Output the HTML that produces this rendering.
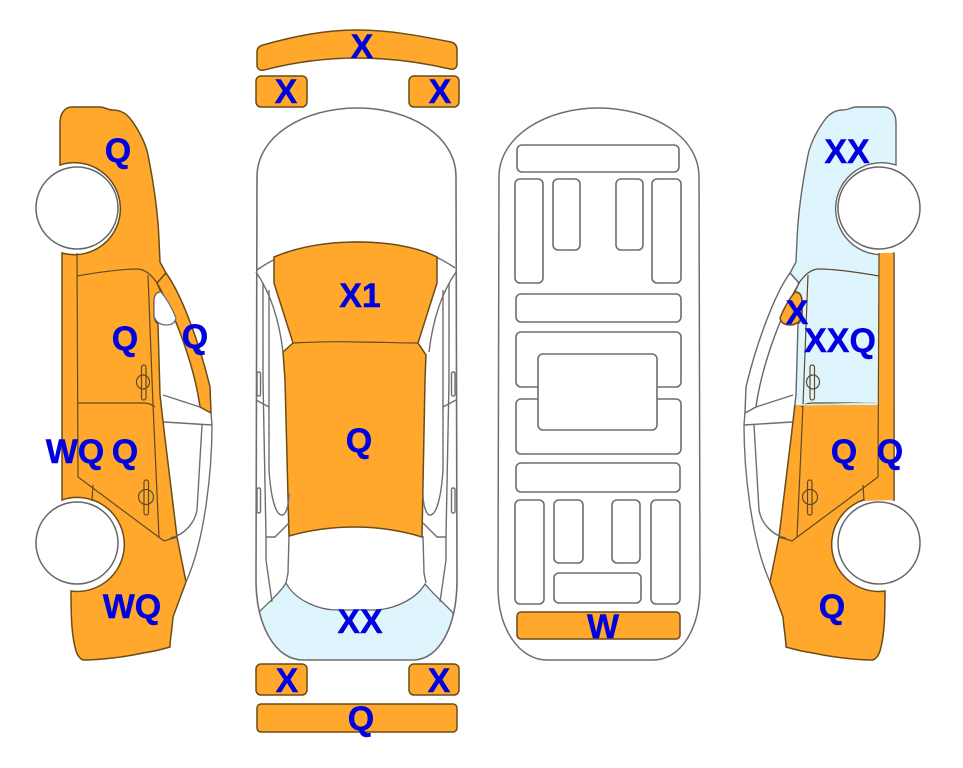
<!DOCTYPE html>
<html><head><meta charset="utf-8"><style>
html,body{margin:0;padding:0;background:#fff;width:963px;height:768px;overflow:hidden}
svg{display:block}
text{font-family:"Liberation Sans",Arial,sans-serif;font-weight:bold;font-size:34px;fill:#0000e1;stroke:#0000e1;stroke-width:.4;text-anchor:middle}
.g{fill:none;stroke:#6e6e6e;stroke-width:1.4}
.r rect{fill:#fff;stroke:#6e6e6e;stroke-width:1.6}
.o{fill:#ffa82c;stroke:#6b4c18;stroke-width:1.5}
.l{fill:none;stroke:#5f4a28;stroke-width:1.2}
</style></head><body>
<svg width="963" height="768" viewBox="0 0 963 768" xmlns="http://www.w3.org/2000/svg">
<defs>
<path id="body" d="M60,165 L60,123 C60,112 66,107 72,107 L100,107 C104,107 108,110 113,110 C122,110 128,115 132,121 C140,132 146,145 148,155 C154,185 158,215 159,240 L160,262 L166,273 L157,283 L161,292 C156,292 154,296 154,302 L154,314 C154,319 155,322 158,324 L160,395 L164,430 L177,537 L186,582 L173,617 C172,630 170,640 170,647 C160,650 150,652 143,653 C125,657 100,660 83,660 C78,658 76,652 75,647 C72,635 71,620 71,591 A47,47 0 1 0 62,500 L62,253 A46,46 0 1 0 60,165 Z"/>
<path id="band" d="M166,273 C182,295 200,345 210,387 L211,413 L200,407 C195,370 178,320 157,283 Z"/>
<path id="mir" d="M161,292 C156,292 154,296 154,302 L154,314 C154,321 160,325 166,325 C171,325 175,323 176,318 C172,308 167,299 161,292 Z"/>
<path id="shell" d="M256,580 L257,177 C257,135 305,108 357,108 C409,108 456,135 456,177 L457,580 C457,625 440,660 413,660 L303,660 C275,660 256,625 256,580 Z"/>
<g id="doors">
<path d="M77,276 C100,272 120,269 137,269 C146,269 152,276 158,284"/>
<path d="M77,253 L78,477 L164,541 L177,537"/>
<path d="M148,275 L153,405 L159,537"/>
<path d="M78,403 L145,403 Q152,404 155,407"/>
<path d="M93,485 L92,501"/>
<rect x="141.500" y="365" width="4.500" height="35" rx="2.200"/>
<ellipse cx="143" cy="382" rx="6.500" ry="7"/>
<rect x="144" y="480" width="4.500" height="35" rx="2.200"/>
<ellipse cx="146" cy="497" rx="7.500" ry="7.500"/>
</g>
<g id="win" class="g">
<path d="M211,413 L212,425 C212,470 205,540 186,582"/>
<path d="M163,395 L200,407"/>
<path d="M164,422 L212,425"/>
<path d="M202,425 L197,510 C195,522 185,535 170,538"/>
</g>
<g id="side">
<path d="M256,272 C265,285 278,310 283,352"/>
<path d="M263,283 L263,380 L266,537 L266,560 L272,602"/>
<path d="M269,290 L269,470 C271,500 276,515 282,515 C286,515 289,505 289,493"/>
<path d="M256,400 L269,407"/>
<path d="M266,537 L275,537 L289,523"/>
<path d="M289,536 L288,573 L286,583"/>
<rect x="257" y="372" width="3.500" height="24" rx="1.500"/>
<rect x="257" y="488" width="3.500" height="25" rx="1.500"/>
</g>
<clipPath id="up"><rect x="0" y="0" width="300" height="405"/></clipPath>
<clipPath id="dn"><rect x="0" y="405" width="300" height="363"/></clipPath>
<clipPath id="sh"><use href="#shell"/></clipPath>
</defs>

<!-- left car -->
<use href="#body" class="o"/>
<use href="#band" class="o"/>
<use href="#mir" fill="#fff" stroke="#6e6e6e" stroke-width="1.3"/>
<use href="#win"/>
<use href="#doors" class="l"/>
<circle cx="77" cy="208" r="41" fill="#fff" stroke="#666" stroke-width="1.5"/>
<circle cx="77" cy="543" r="41" fill="#fff" stroke="#666" stroke-width="1.5"/>

<!-- right car -->
<g transform="translate(956,0) scale(-1,1)">
<use href="#body" fill="#dff5fe" stroke="#666" stroke-width="1.4" clip-path="url(#up)"/>
<use href="#body" class="o" clip-path="url(#dn)"/>
<path d="M62,253 L77,253 L78,477 L93,485 L92,501 L62,500 Z" fill="#ffa82c"/>
<path d="M62,253 L62,500" class="l"/>
<use href="#band" fill="#fff" stroke="#666" stroke-width="1.4"/>
<use href="#mir" class="o"/>
<use href="#win"/>
<use href="#doors" class="l"/>
<path d="M78,403 L155,405" stroke="#cfe8ee" stroke-width="1.500" fill="none"/>
<circle cx="77" cy="208" r="41" fill="#fff" stroke="#666" stroke-width="1.5"/>
<circle cx="77" cy="543" r="41" fill="#fff" stroke="#666" stroke-width="1.5"/>
</g>

<!-- centre car -->
<use href="#shell" fill="#fff"/>
<path d="M286,583 C279,594 268,603 259,612 L259,670 L455,670 L453,613 C444,603 433,594 425,584 C417,598 395,610 373,610 L337,610 C318,610 295,600 286,583 Z" fill="#dff5fe" stroke="#666" stroke-width="1.300" clip-path="url(#sh)"/>
<use href="#shell" fill="none" stroke="#6e6e6e" stroke-width="1.6"/>
<path d="M257,270 C285,250 320,242 357,242 C395,242 430,250 455,268" class="g"/>
<path d="M274,257 C300,246 330,242 357,242 C385,242 415,246 437,257 L437,283 L418,343 L426,355 L425,380 L422,537 C400,530 375,527 355,527 C330,527 310,530 289,536 L285,380 L283,352 L293,343 L274,283 Z" class="o" stroke-width="1.200"/>
<path d="M293,343 C315,342 335,341 355,342 C380,342 400,343 418,343" class="l"/>
<use href="#side" class="g"/>
<g class="g" transform="translate(712,0) scale(-1,1)"><use href="#side"/></g>

<!-- bumpers and lamps -->
<path d="M263,45 C295,36 325,30 357,30 C390,30 420,36 451,42 C455,43 457,46 457,50 L457,64 C457,68 454,70 450,69 C420,62 390,58 357,58 C325,58 295,62 264,70 C260,71 257,69 257,65 L257,52 C257,48 259,46 263,45 Z" class="o"/>
<rect x="256" y="76" width="51" height="31" rx="5" class="o"/>
<rect x="409" y="76" width="50" height="31" rx="5" class="o"/>
<rect x="256" y="664" width="51" height="31" rx="5" class="o"/>
<rect x="409" y="664" width="50" height="31" rx="5" class="o"/>
<rect x="257" y="704" width="200" height="28" rx="4" class="o"/>

<!-- underbody -->
<path d="M498,587 L499,177 C499,135 548,108 598,108 C650,108 699,135 699,177 L700,587 C700,630 680,660 653,660 L547,660 C520,660 498,630 498,587 Z" fill="#fff" stroke="#6e6e6e" stroke-width="1.500"/>
<g class="r">
<rect x="517" y="145" width="162" height="27" rx="5"/>
<rect x="515" y="179" width="28" height="104" rx="5"/>
<rect x="553" y="179" width="27" height="71" rx="5"/>
<rect x="616" y="179" width="27" height="71" rx="5"/>
<rect x="652" y="179" width="29" height="104" rx="5"/>
<rect x="516" y="294" width="165" height="28" rx="5"/>
<rect x="516" y="332" width="165" height="55" rx="5"/>
<rect x="516" y="399" width="165" height="55" rx="5"/>
<rect x="538" y="354" width="119" height="76" rx="5"/>
<rect x="516" y="463" width="164" height="29" rx="5"/>
<rect x="515" y="500" width="29" height="104" rx="5"/>
<rect x="554" y="500" width="29" height="63" rx="5"/>
<rect x="612" y="500" width="28" height="63" rx="5"/>
<rect x="651" y="500" width="29" height="104" rx="5"/>
<rect x="554" y="573" width="87" height="30" rx="5"/>
</g>
<rect x="517" y="612" width="163" height="27" rx="4" class="o"/>

<!-- labels -->
<text x="118" y="162">Q</text>
<text x="125" y="350">Q</text>
<text x="195" y="348">Q</text>
<text x="75" y="463">WQ</text>
<text x="125" y="463">Q</text>
<text x="132" y="618">WQ</text>
<text x="362" y="58">X</text>
<text x="286" y="103">X</text>
<text x="440" y="103">X</text>
<text x="360" y="307">X1</text>
<text x="359" y="452">Q</text>
<text x="360" y="633">XX</text>
<text x="287" y="692">X</text>
<text x="439" y="692">X</text>
<text x="361" y="730">Q</text>
<text x="603" y="638">W</text>
<text x="847" y="163">XX</text>
<text x="797" y="324">X</text>
<text x="840" y="352">XXQ</text>
<text x="844" y="463">Q</text>
<text x="890" y="463">Q</text>
<text x="832" y="618">Q</text>
</svg>
</body></html>
